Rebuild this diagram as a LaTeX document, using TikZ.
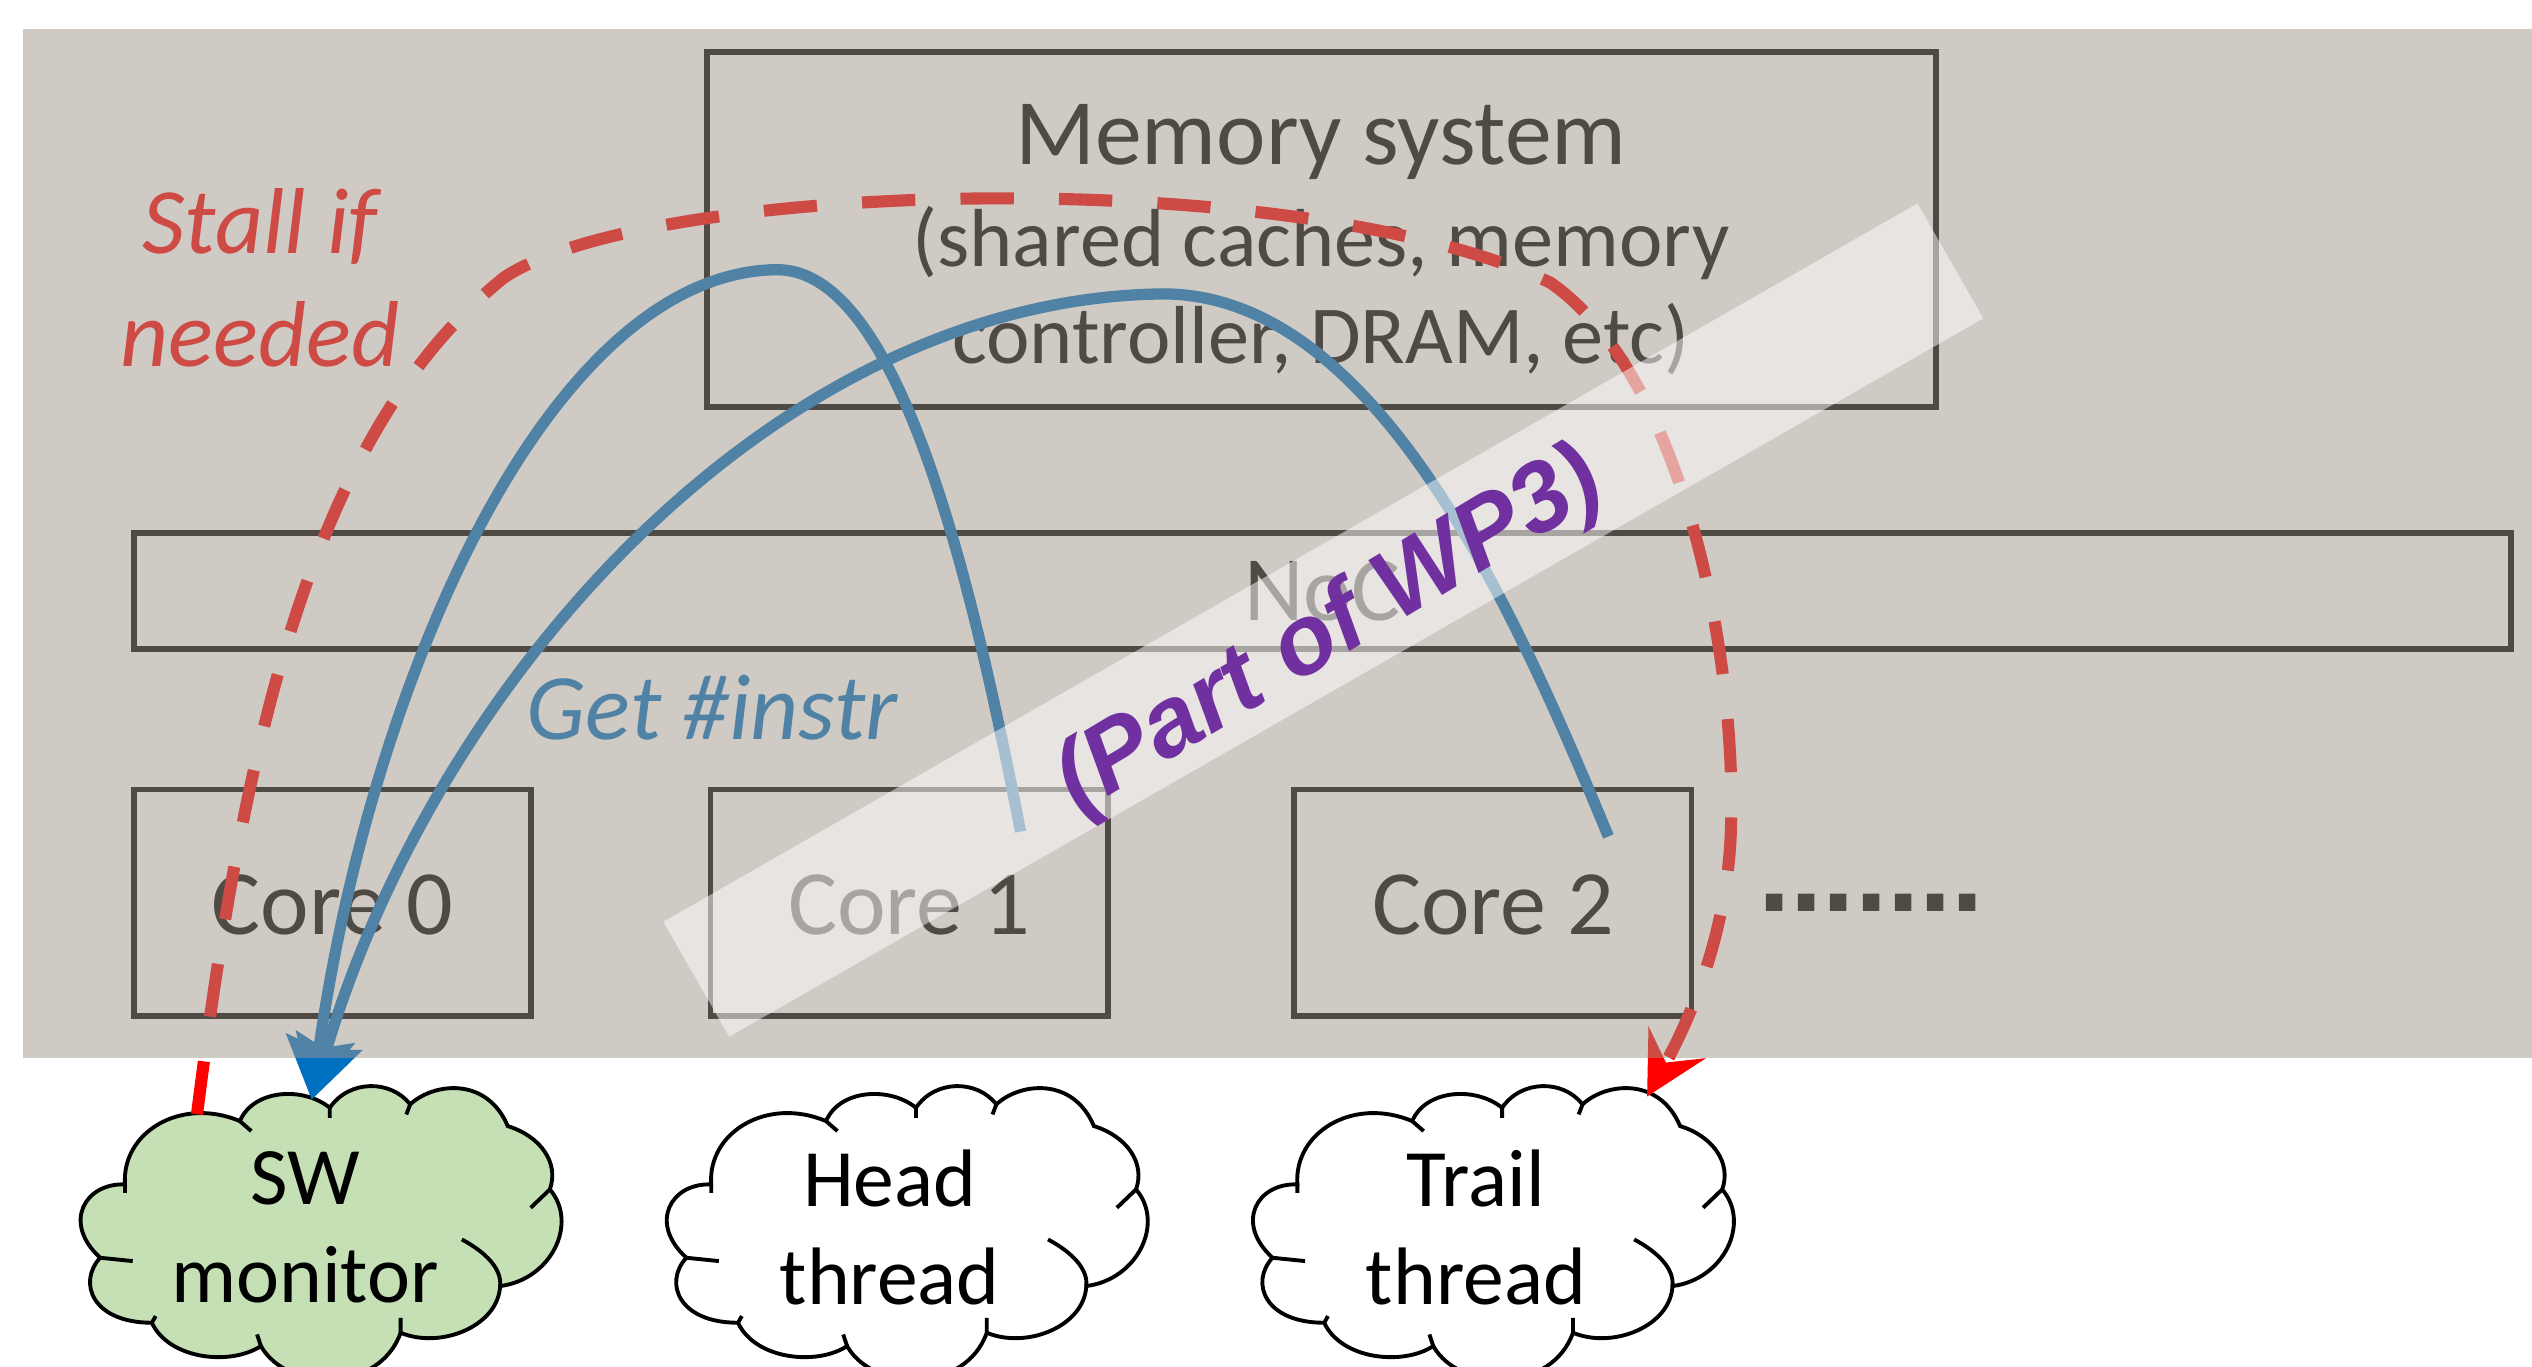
\documentclass[tikz,border=0pt]{standalone}
\usepackage{fontspec}
\setmainfont{Carlito}
\newfontfamily\wpfont{Liberation Sans}
\usepackage{tikz}
\usetikzlibrary{positioning}
\usetikzlibrary{arrows.meta}
\definecolor{shadegray}{RGB}{159,149,137}
\definecolor{stallred}{RGB}{255,0,0}
\definecolor{instrblue}{RGB}{0,112,192}
\definecolor{wppurple}{RGB}{112,48,160}
\definecolor{monitorgreen}{RGB}{197,224,180}
\newcommand{\sizedfont}[2]{\fontsize{#1}{#2}\selectfont}
% one cloud: x shift, fill colour
\newcommand{\cloudoutline}[2]{
\begin{scope}[shift={(#1,557)}, xscale=.237, yscale=.2064]
\filldraw[cloudline, fill=#2] (255,855) .. controls (245,700) and (400,590) .. (555,665)
  .. controls (590,570) and (720,560) .. (790,625)
  .. controls (840,540) and (950,540) .. (1000,615)
  .. controls (1060,550) and (1200,530) .. (1255,680)
  .. controls (1340,710) and (1390,790) .. (1365,870)
  .. controls (1440,970) and (1370,1140) .. (1235,1160)
  .. controls (1230,1280) and (1080,1350) .. (975,1300)
  .. controls (920,1480) and (680,1480) .. (610,1340)
  .. controls (530,1400) and (370,1380) .. (325,1270)
  .. controls (170,1270) and (130,1150) .. (190,1075)
  .. controls (90,970) and (150,850) .. (255,855) -- cycle;
\draw[cloudline] (555,665) -- (585,695) (790,625) -- (790,655) (1000,615) -- (990,645)
  (1365,870) -- (1315,925) (975,1300) -- (975,1255) (610,1340) -- (600,1305)
  (325,1270) -- (335,1250) (190,1075) -- (275,1085) (255,855) -- (255,880)
  (1135,1020) .. controls (1200,1060) and (1240,1110) .. (1235,1160);
\end{scope}
}
\begin{document}
\begin{tikzpicture}[x=1pt, y=-1pt,
                    cloudline/.style={draw=black, line width=2.4pt},
                    hwbox/.style={rectangle, draw=black, line width=3.5pt, outer sep=0pt, inner sep=0pt},
                    corebox/.style={hwbox, minimum width=246pt, minimum height=140pt, text height=40pt, text depth=0pt, font=\sizedfont{57}{57}},
                    cloudtext/.style={align=center, text=black, inner sep=0pt, font=\sizedfont{50.5}{61}},
                    stallarrow/.style={draw=stallred, line width=7.5pt, dash pattern=on 33pt off 28pt, -{Stealth[length=38pt, width=40pt, inset=14pt, sep=0pt]}},
                    instrarrow/.style={draw=instrblue, line width=7pt, -{Stealth[length=38pt, width=42pt, inset=6pt]}}]
\useasboundingbox (0,0) rectangle (1568,846);

\cloudoutline{17}{monitorgreen}
\cloudoutline{380}{white}
\cloudoutline{743}{white}
\node (monitor) [cloudtext] at (189,760) {SW\\monitor};
\node (head) [cloudtext] at (551,760) {Head\\thread};
\node (trail) [cloudtext] at (914,760) {Trail\\thread};

\node (mem) [hwbox, minimum width=761pt, minimum height=220pt] at (818.5,142) {};
\node (memtitle) [font=\sizedfont{58}{58}, inner sep=0pt] at (818,88) {Memory system};
\node (memdetail) [below=16pt of memtitle, align=center, inner sep=0pt, font=\sizedfont{51}{60}] {(shared caches, memory\\controller, DRAM, etc)};
\node (noc) [hwbox, minimum width=1472pt, minimum height=72pt, font=\sizedfont{57}{57}] at (819,366) {NoC};
\node (core0) [corebox] at (206,559) {Core 0};
\node (core1) [corebox, right=111pt of core0] {Core 1};
\node (core2) [corebox, right=115.5pt of core1] {Core 2};
\node (dots) [font=\wpfont\bfseries\sizedfont{72}{72}, right=41pt of core2, inner sep=0pt, yshift=0pt] {.......};

\node (stall) [text=stallred, align=center, inner sep=0pt, font=\itshape\sizedfont{58}{70}] at (161,172) {Stall if\\needed};
\node (getinstr) [text=instrblue, inner sep=0pt, font=\itshape\sizedfont{58}{58}] at (441,438) {Get \#instr};

\coordinate (stallstart) at (122,690);
\coordinate (stallend) at (1020,679);
\coordinate (instrhead) at (632,515);
\coordinate (instrtrail) at (996,518);
\coordinate (instrend) at (193,681);

\draw[stallarrow] (stallstart) .. controls (150,470) and (190,270) .. (312,172)
  .. controls (400,112) and (800,100) .. (960,175)
  .. controls (1040,230) and (1075,400) .. (1072,510)
  .. controls (1071,570) and (1050,625) .. (stallend);
\draw[instrarrow] (instrhead) .. controls (600,350) and (555,165) .. (480,167)
  .. controls (340,170) and (230,420) .. (instrend);
\draw[instrarrow] (instrtrail) .. controls (935,370) and (850,182) .. (720,182)
  .. controls (480,185) and (270,420) .. (instrend);

% grey sheet over the hardware part
\fill[shadegray, fill opacity=.5] (14,18) rectangle (1568,655);

\node (band) [rectangle, rotate=29.8, fill=white, fill opacity=.5, minimum width=895pt, minimum height=82pt] at (819.5,384) {};
\node (wp) [rotate=31, text=wppurple, inner sep=0pt, font=\wpfont\bfseries\itshape\sizedfont{61}{61}] at (824,392) {(Part of WP3)};
\end{tikzpicture}
\end{document}
